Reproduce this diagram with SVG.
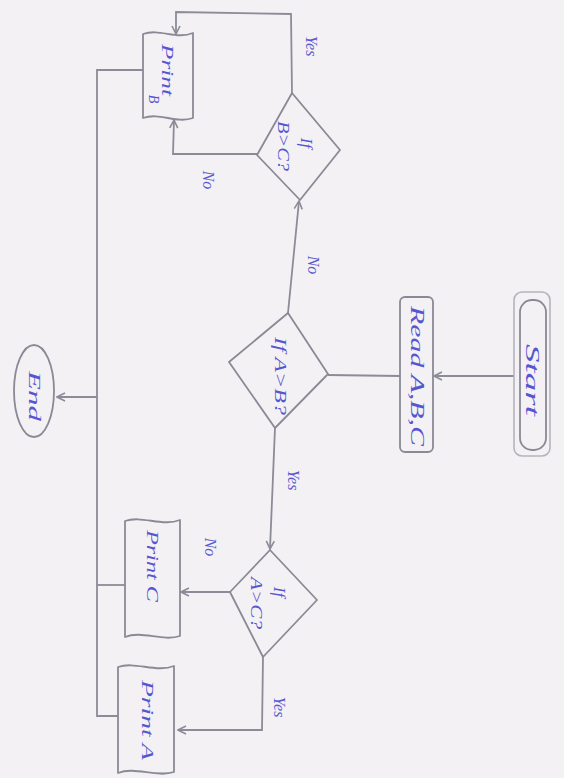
<svg xmlns="http://www.w3.org/2000/svg" width="564" height="778" viewBox="0 0 564 778">
  <style>
    .shape { fill: none; stroke: #8a8a96; stroke-width: 1.8; stroke-linejoin: round; }
    .soft { fill: none; stroke: #b4b4be; stroke-width: 1.6; }
    .wire { fill: none; stroke: #8c8c98; stroke-width: 1.8; }
    .hand { font-family: "Liberation Serif", serif; font-style: italic; fill: #5656d0; text-anchor: middle; dominant-baseline: central; }
    .lbl { font-family: "Liberation Serif", serif; font-style: italic; fill: #5a5ad0; text-anchor: middle; dominant-baseline: central; font-size: 16px; }
  </style>
  <defs>
    <marker id="arr" viewBox="0 0 10 10" refX="9" refY="5" markerWidth="10" markerHeight="10" orient="auto" markerUnits="userSpaceOnUse">
      <path d="M1,1 L9,5 L1,9" fill="none" stroke="#8c8c98" stroke-width="1.6"/>
    </marker>
  </defs>
  <rect width="564" height="778" fill="#f3f1f4"/>

  <g id="connectors">
    <!-- start -> read -->
    <path class="wire" d="M514,376 L434,376" marker-end="url(#arr)"/>
    <!-- read -> decision A>B -->
    <path class="wire" d="M400,376 L328,375"/>
    <!-- A>B no -> B>C -->
    <path class="wire" d="M288,313 L299,201" marker-end="url(#arr)"/>
    <!-- B>C yes -> Print B (top) -->
    <path class="wire" d="M292,93 L291,14 L176,12 L176,34" marker-end="url(#arr)"/>
    <!-- B>C no -> Print B (bottom) -->
    <path class="wire" d="M257,154 L173,154 L174,120" marker-end="url(#arr)"/>
    <!-- A>B yes -> A>C -->
    <path class="wire" d="M275,428 L270,549" marker-end="url(#arr)"/>
    <!-- A>C no -> Print C -->
    <path class="wire" d="M230,592 L181,592" marker-end="url(#arr)"/>
    <!-- A>C yes -> Print A -->
    <path class="wire" d="M263,657 L262,730 L178,730" marker-end="url(#arr)"/>
    <!-- print outputs merge into a common line -->
    <path class="wire" d="M143,70 L97,70 L97,716 L118,716"/>
    <path class="wire" d="M125,585 L97,585"/>
    <!-- merge -> end -->
    <path class="wire" d="M97,397 L57,397" marker-end="url(#arr)"/>
  </g>

  <g id="start">
    <rect class="soft" x="514" y="292" width="36" height="164" rx="8"/>
    <rect class="shape" x="520" y="300" width="26" height="150" rx="12"/>
    <text class="hand" transform="translate(532,380) rotate(90)" font-size="19" textLength="72" lengthAdjust="spacingAndGlyphs">Start</text>
  </g>

  <g id="read">
    <rect class="shape" x="400" y="297" width="33" height="155" rx="5"/>
    <text class="hand" transform="translate(417,376) rotate(90)" font-size="19" textLength="140" lengthAdjust="spacingAndGlyphs">Read A,B,C</text>
  </g>

  <g id="decision-ab">
    <polygon class="shape" points="288,313 328,374 275,428 229,362"/>
    <text class="hand" transform="translate(280,376) rotate(90)" font-size="16" textLength="78" lengthAdjust="spacingAndGlyphs">If A&gt;B?</text>
  </g>

  <g id="decision-bc">
    <polygon class="shape" points="292,93 340,150 300,200 257,155"/>
    <text class="hand" transform="translate(306,143) rotate(90)" font-size="17">If</text>
    <text class="hand" transform="translate(283,146) rotate(90)" font-size="16" textLength="50" lengthAdjust="spacingAndGlyphs">B&gt;C?</text>
  </g>

  <g id="print-b">
    <path class="shape" d="M143,34 C160,28 176,40 193,33 L193,118 C176,124 160,112 143,118 Z"/>
    <text class="hand" transform="translate(167,70) rotate(90)" font-size="17" textLength="52" lengthAdjust="spacingAndGlyphs">Print</text>
    <text class="hand" transform="translate(153,99) rotate(90)" font-size="14">B</text>
  </g>

  <g id="decision-ac">
    <polygon class="shape" points="270,550 317,600 263,657 230,592"/>
    <text class="hand" transform="translate(279,592) rotate(90)" font-size="17">If</text>
    <text class="hand" transform="translate(256,603) rotate(90)" font-size="16" textLength="52" lengthAdjust="spacingAndGlyphs">A&gt;C?</text>
  </g>

  <g id="print-c">
    <path class="shape" d="M125,521 C142,515 162,527 180,520 L180,636 C162,642 142,630 125,637 Z"/>
    <text class="hand" transform="translate(152,566) rotate(90)" font-size="17" textLength="72" lengthAdjust="spacingAndGlyphs">Print C</text>
  </g>

  <g id="print-a">
    <path class="shape" d="M118,667 C135,661 156,673 174,666 L174,772 C156,778 135,766 118,773 Z"/>
    <text class="hand" transform="translate(147,720) rotate(90)" font-size="17" textLength="80" lengthAdjust="spacingAndGlyphs">Print A</text>
  </g>

  <g id="end">
    <ellipse class="shape" cx="34" cy="391" rx="20" ry="46"/>
    <text class="hand" transform="translate(34,396) rotate(90)" font-size="16" textLength="50" lengthAdjust="spacingAndGlyphs">End</text>
  </g>

  <g id="labels">
    <text class="lbl" transform="translate(311,46) rotate(90)">Yes</text>
    <text class="lbl" transform="translate(208,180) rotate(90)">No</text>
    <text class="lbl" transform="translate(313,265) rotate(90)">No</text>
    <text class="lbl" transform="translate(293,480) rotate(90)">Yes</text>
    <text class="lbl" transform="translate(210,547) rotate(90)">No</text>
    <text class="lbl" transform="translate(279,707) rotate(90)">Yes</text>
  </g>
</svg>
